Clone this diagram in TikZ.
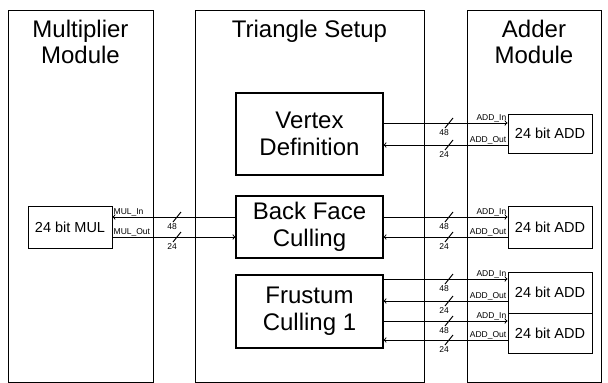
\documentclass[tikz,border=0pt]{standalone}
\usepackage{fontspec}
\setmainfont{Liberation Sans}
\usetikzlibrary{arrows}

\begin{document}
\begin{tikzpicture}[x=1pt,y=-1pt,>=to,
    module/.style={draw, line width=1.1pt, anchor=north west, inner sep=0pt},
    block/.style={draw, line width=1.1pt, font=\fontsize{24}{27}\selectfont, align=center, inner sep=0pt},
    unit/.style={draw, line width=1pt, font=\fontsize{14.5}{16}\selectfont, minimum width=84pt, inner sep=0pt},
    sig/.style={line width=1pt},
    port/.style={font=\fontsize{8.5}{9}\selectfont, inner sep=1pt},
    width/.style={font=\fontsize{8.5}{9}\selectfont, inner sep=0pt}]
    \useasboundingbox (0,0) rectangle (608,383);

    % modules
    \node[module, minimum width=145pt, minimum height=372pt] (mult) at (8,10) {};
    \node[module, minimum width=229pt, minimum height=372pt] (tri) at (195,10) {};
    \node[module, minimum width=134pt, minimum height=372pt] (adder) at (467,10) {};
    \node[font=\fontsize{24}{26}\selectfont, align=center, anchor=north] at (80.5,17) {Multiplier\\Module};
    \node[font=\fontsize{24}{26}\selectfont, anchor=north] at (309.5,17) {Triangle Setup};
    \node[font=\fontsize{24}{26}\selectfont, align=center, anchor=north] at (534,17) {Adder\\Module};

    % blocks
    \node[unit, minimum height=42pt] (mul) at (70,227) {24 bit MUL};
    \node[block, minimum width=147pt, minimum height=82pt] (vd) at (309.5,134) {Vertex\\Definition};
    \node[block, minimum width=147pt, minimum height=62pt] (bfc) at (309.5,227) {Back Face\\Culling};
    \node[block, minimum width=147pt, minimum height=73pt] (fc) at (309.5,311.5) {Frustum\\Culling 1};
    \node[unit, minimum height=39pt] (add1) at (550,133.5) {24 bit ADD};
    \node[unit, minimum height=42pt] (add2) at (550,227) {24 bit ADD};
    \node[unit, minimum height=41pt] (add3) at (550,292.5) {24 bit ADD};
    \node[unit, minimum height=40pt] (add4) at (550,333) {24 bit ADD};

    % multiplier links
    \draw[sig,->] ([yshift=10pt]bfc.west) -- ([yshift=10pt]mul.east);
    \draw[sig,->] ([yshift=-10pt]mul.east) -- ([yshift=-10pt]bfc.west);
    \node[port, anchor=south west] at ([yshift=10pt]mul.east) {MUL\_In};
    \node[port, anchor=south west] at ([yshift=-10pt]mul.east) {MUL\_Out};
    \draw[sig] (173,222) -- (181,212);
    \draw[sig] (173,242) -- (181,232);
    \node[width] at (172,227) {48};
    \node[width] at (172,247) {24};

    % adder links
    \draw[sig,->] ([yshift=11pt]vd.east) -- ([yshift=10.5pt]add1.west);
    \draw[sig,->] ([yshift=-11.5pt]add1.west) -- ([yshift=-11pt]vd.east);
    \draw[sig,->] ([yshift=10pt]bfc.east) -- ([yshift=10pt]add2.west);
    \draw[sig,->] ([yshift=-10pt]add2.west) -- ([yshift=-10pt]bfc.east);
    \draw[sig,->] ([yshift=32.5pt]fc.east) -- ([yshift=13.5pt]add3.west);
    \draw[sig,->] ([yshift=-8.5pt]add3.west) -- ([yshift=10.5pt]fc.east);
    \draw[sig,->] ([yshift=-9.5pt]fc.east) -- ([yshift=12pt]add4.west);
    \draw[sig,->] ([yshift=-7pt]add4.west) -- ([yshift=-28.5pt]fc.east);

    \node[port, anchor=south east] at ([yshift=10.5pt]add1.west) {ADD\_In};
    \node[port, anchor=south east] at ([yshift=-11.5pt]add1.west) {ADD\_Out};
    \node[port, anchor=south east] at ([yshift=10pt]add2.west) {ADD\_In};
    \node[port, anchor=south east] at ([yshift=-10pt]add2.west) {ADD\_Out};
    \node[port, anchor=south east] at ([yshift=13.5pt]add3.west) {ADD\_In};
    \node[port, anchor=south east] at ([yshift=-8.5pt]add3.west) {ADD\_Out};
    \node[port, anchor=south east] at ([yshift=12pt]add4.west) {ADD\_In};
    \node[port, anchor=south east] at ([yshift=-7pt]add4.west) {ADD\_Out};

    % bus widths
    \draw[sig] (445,128) -- (453,118);
    \draw[sig] (445,150) -- (453,140);
    \node[width] at (444,133) {48};
    \node[width] at (444,155) {24};
    \draw[sig] (445,222) -- (453,212);
    \draw[sig] (445,242) -- (453,232);
    \node[width] at (444,227) {48};
    \node[width] at (444,247) {24};
    \draw[sig] (445,284) -- (453,274);
    \draw[sig] (445,306) -- (453,296);
    \node[width] at (444,289) {48};
    \node[width] at (444,311) {24};
    \draw[sig] (445,326) -- (453,316);
    \draw[sig] (445,345) -- (453,335);
    \node[width] at (444,331) {48};
    \node[width] at (444,350) {24};
\end{tikzpicture}
\end{document}
